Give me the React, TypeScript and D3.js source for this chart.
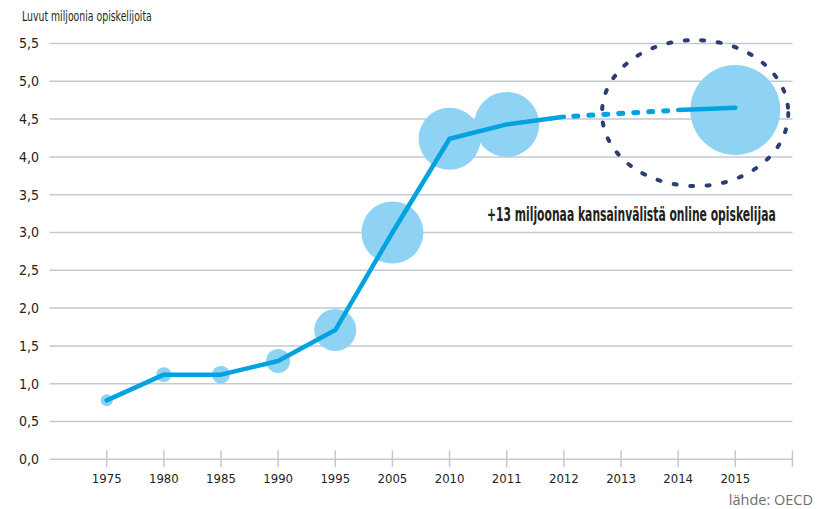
import React, { useEffect, useRef } from "react";
import * as d3 from "d3";

const years = ["1975", "1980", "1985", "1990", "1995", "2005", "2010", "2011", "2012", "2013", "2014", "2015"];
// miljoonaa opiskelijaa (null = ei arvoa)
const students: (number | null)[] = [0.78, 1.12, 1.12, 1.3, 1.71, 3.0, 4.24, 4.43, 4.53, null, 4.62, 4.65];
// pallojen koko (suhteellinen pinta-ala), null = ei palloa
const bubble: (number | null)[] = [36, 56, 81, 144, 441, 961, 961, 1056, null, null, null, 2025];
const bubbleY: (number | null)[] = [0.78, 1.12, 1.12, 1.3, 1.71, 3.0, 4.24, 4.43, null, null, null, 4.62];
const yTicks = [0, 0.5, 1, 1.5, 2, 2.5, 3, 3.5, 4, 4.5, 5, 5.5];
const solidA = ["1975", "1980", "1985", "1990", "1995", "2005", "2010", "2011", "2012"];
const dotted = ["2012", "2014"];
const solidB = ["2014", "2015"];
const highlight = ["2013", "2015"];

const W = 828;
const H = 509;
const condensed = "'Liberation Sans Narrow', 'DejaVu Sans Condensed', 'Roboto Condensed', sans-serif";

// squeeze a text horizontally to a target width (keeps its bbox honest)
function squeeze(sel: d3.Selection<SVGTextElement, unknown, null, undefined>, x: number, y: number, width: number) {
  const node = sel.node() as SVGTextElement;
  const w = node.getComputedTextLength() || width;
  sel.attr("transform", `translate(${x},${y}) scale(${Math.min(1, width / w)},1)`);
}

export default function App() {
  const ref = useRef<SVGSVGElement>(null);

  useEffect(() => {
    const svg = d3.select(ref.current);
    svg.selectAll("*").remove();

    const x = d3.scalePoint<string>().domain(years).range([106.7, 735.3]);
    const step = x.step();
    const y = d3.scaleLinear().domain([0, 5.5]).range([459.3, 43.5]);
    const r = d3.scaleSqrt().domain([0, 2025]).range([0, 45]);
    const fmt = (v: number) => d3.format(".1f")(v).replace(".", ",");

    const x0 = (x(years[0]) as number) - step;
    const x1 = (x(years[years.length - 1]) as number) + step;

    // gridlines
    svg
      .append("g")
      .selectAll("line")
      .data(yTicks)
      .join("line")
      .attr("x1", x0)
      .attr("x2", x1)
      .attr("y1", (d) => y(d))
      .attr("y2", (d) => y(d))
      .attr("stroke", "#c3c9d1")
      .attr("stroke-width", 1.5);

    // y labels
    svg
      .append("g")
      .selectAll("text")
      .data(yTicks)
      .join("text")
      .attr("x", 39)
      .attr("y", (d) => y(d))
      .attr("dy", "0.35em")
      .attr("text-anchor", "end")
      .attr("font-family", condensed)
      .attr("font-size", 14)
      .attr("fill", "#231f20")
      .text((d) => fmt(d));

    // x ticks
    const tickPos = years.map((d) => x(d) as number).concat([x1]);
    svg
      .append("g")
      .selectAll("line")
      .data(tickPos)
      .join("line")
      .attr("x1", (d) => d)
      .attr("x2", (d) => d)
      .attr("y1", y(0) - 9)
      .attr("y2", y(0) + 8)
      .attr("stroke", "#c3c9d1")
      .attr("stroke-width", 1.5);

    svg
      .append("g")
      .selectAll("text")
      .data(years)
      .join("text")
      .attr("x", (d) => x(d) as number)
      .attr("y", 478)
      .attr("dy", "0.35em")
      .attr("text-anchor", "middle")
      .attr("font-family", condensed)
      .attr("font-size", 13)
      .attr("fill", "#231f20")
      .text((d) => d);

    // bubbles
    svg
      .append("g")
      .selectAll("circle")
      .data(years.map((d, i) => ({ d, b: bubble[i], v: bubbleY[i] })).filter((e) => e.b !== null))
      .join("circle")
      .attr("cx", (e) => x(e.d) as number)
      .attr("cy", (e) => y(e.v as number))
      .attr("r", (e) => r(e.b as number))
      .attr("fill", "#8fd3f4");

    const val = (d: string) => students[years.indexOf(d)] as number;
    const ln = d3
      .line<string>()
      .x((d) => x(d) as number)
      .y((d) => y(val(d)));

    svg
      .append("path")
      .attr("d", ln(solidA))
      .attr("fill", "none")
      .attr("stroke", "#00a3e0")
      .attr("stroke-width", 4.5)
      .attr("stroke-linejoin", "round")
      .attr("stroke-linecap", "round");

    svg
      .append("path")
      .attr("d", ln(dotted))
      .attr("fill", "none")
      .attr("stroke", "#00a3e0")
      .attr("stroke-width", 5)
      .attr("stroke-dasharray", "4 11")
      .attr("stroke-dashoffset", -10)
      .attr("stroke-linecap", "round");

    svg
      .append("path")
      .attr("d", ln(solidB))
      .attr("fill", "none")
      .attr("stroke", "#00a3e0")
      .attr("stroke-width", 4.5)
      .attr("stroke-linecap", "round");

    // dashed ellipse around forecast
    const ex0 = (x(highlight[0]) as number) - 19;
    const ex1 = (x(highlight[1]) as number) + 53;
    svg
      .append("ellipse")
      .attr("cx", (ex0 + ex1) / 2)
      .attr("cy", y(4.58))
      .attr("rx", (ex1 - ex0) / 2)
      .attr("ry", 73)
      .attr("fill", "none")
      .attr("stroke", "#2c3d75")
      .attr("stroke-width", 4)
      .attr("stroke-dasharray", "3 13.6")
      .attr("stroke-linecap", "round");

    const note = svg
      .append("text")
      .attr("font-family", condensed)
      .attr("font-size", 19)
      .attr("font-weight", 600)
      .attr("fill", "#231f20")
      .text("+13 miljoonaa kansainvälistä online opiskelijaa");
    squeeze(note as any, 487, 221, 289);

    const title = svg
      .append("text")
      .attr("font-family", condensed)
      .attr("font-size", 13.5)
      .attr("fill", "#231f20")
      .text("Luvut miljoonia opiskelijoita");
    squeeze(title as any, 22, 21, 130);

    svg
      .append("text")
      .attr("x", 813)
      .attr("y", 505)
      .attr("text-anchor", "end")
      .attr("font-family", "'Open Sans', 'Noto Sans', sans-serif")
      .attr("font-size", 14.5)
      .attr("fill", "#6d6e71")
      .text("lähde: OECD");
  }, []);

  return (
    <div style={{ position: "absolute", left: 0, top: 0 }}>
      <svg ref={ref} width={W} height={H} style={{ display: "block", background: "#fff" }} />
    </div>
  );
}
